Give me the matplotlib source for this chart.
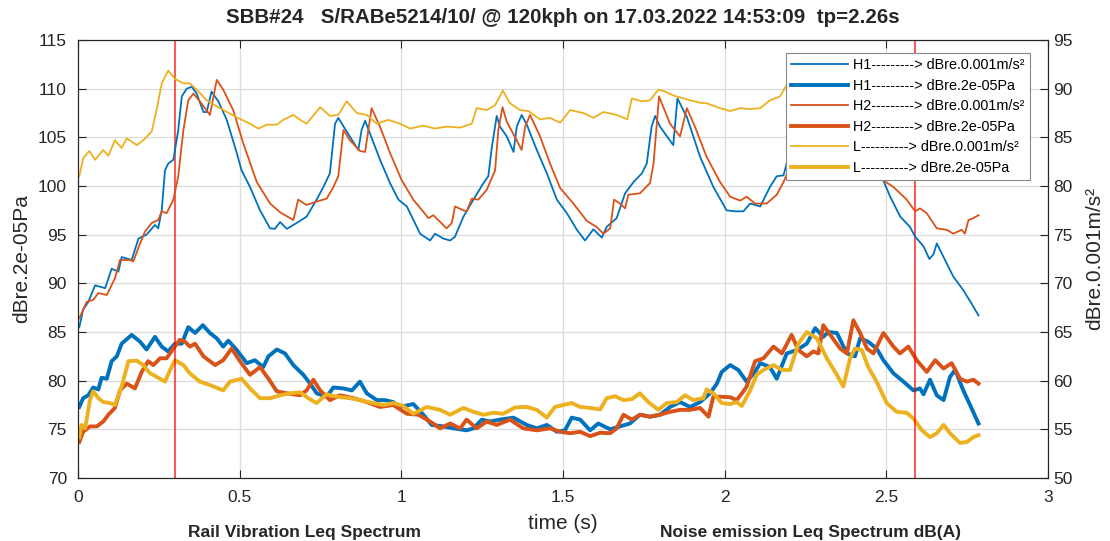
import matplotlib
matplotlib.use('Agg')
import matplotlib.pyplot as plt

plt.rcParams['font.family'] = ['Liberation Sans', 'DejaVu Sans']

# thin lines: acceleration, right axis (dBre.0.001m/s²)
t_h1_acc = [0.004, 0.016, 0.032, 0.053, 0.084, 0.104, 0.125, 0.135, 0.166, 0.187, 0.212, 0.238, 0.248,
            0.259, 0.269, 0.279, 0.295, 0.31, 0.321, 0.336, 0.352, 0.367, 0.388, 0.398, 0.413, 0.434,
            0.46, 0.491, 0.506, 0.532, 0.563, 0.594, 0.609, 0.625, 0.646, 0.676, 0.707, 0.738, 0.759,
            0.779, 0.795, 0.805, 0.831, 0.867, 0.877, 0.888, 0.903, 0.934, 0.965, 0.991, 1.017, 1.042,
            1.058, 1.089, 1.104, 1.13, 1.151, 1.166, 1.192, 1.223, 1.254, 1.269, 1.28, 1.295, 1.305,
            1.326, 1.347, 1.357, 1.372, 1.388, 1.419, 1.45, 1.481, 1.512, 1.543, 1.568, 1.594, 1.62,
            1.635, 1.666, 1.692, 1.718, 1.744, 1.759, 1.774, 1.785, 1.8, 1.841, 1.854, 1.872, 1.883,
            1.924, 1.965, 2.006, 2.032, 2.058, 2.079, 2.11, 2.14, 2.161, 2.182, 2.197, 2.22, 2.27, 2.3,
            2.35, 2.4, 2.45, 2.49, 2.512, 2.543, 2.573, 2.589, 2.615, 2.633, 2.646, 2.656, 2.677, 2.707,
            2.738, 2.764, 2.785]
h1_acc = [65.5, 67.3, 68.1, 69.8, 69.5, 71.5, 71.2, 72.7, 72.4, 74.6, 75.0, 76.0, 75.65,
          77.5, 81.6, 82.3, 82.7, 85.75, 89.2, 90.0, 90.2, 89.5, 87.6, 87.6, 89.7, 88.7,
          86.8, 83.4, 81.6, 79.9, 77.5, 75.65, 75.6, 76.3, 75.6, 76.2, 76.85, 78.6, 79.9,
          81.3, 86.4, 87.0, 85.6, 83.7, 85.75, 86.7, 85.4, 82.7, 80.3, 78.6, 77.9, 76.2,
          75.1, 74.4, 75.1, 74.6, 74.4, 74.8, 76.85, 78.6, 80.3, 81.0, 84.0, 87.2, 86.1,
          85.1, 83.5, 86.1, 87.3, 86.3, 83.7, 81.3, 78.6, 77.2, 75.5, 74.4, 75.55, 74.7,
          75.8, 76.7, 79.25, 80.4, 81.3, 82.3, 86.1, 87.2, 86.1, 84.2, 89.0, 87.8, 87.1,
          83.0, 79.9, 77.5, 77.4, 77.4, 78.2, 77.9, 79.9, 81.0, 81.1, 83.0, 85.0, 88.5, 87.0,
          89.0, 85.0, 82.0, 80.6, 78.9, 76.85, 75.8, 74.8, 73.8, 72.5, 73.0, 74.1, 72.7, 70.7,
          69.3, 67.9, 66.7]

t_h2_acc = [0.004, 0.027, 0.047, 0.063, 0.089, 0.114, 0.13, 0.161, 0.171, 0.192, 0.207, 0.228, 0.248,
            0.259, 0.274, 0.295, 0.31, 0.326, 0.341, 0.357, 0.377, 0.408, 0.429, 0.449, 0.48, 0.511,
            0.553, 0.594, 0.625, 0.666, 0.681, 0.707, 0.738, 0.769, 0.79, 0.805, 0.821, 0.841, 0.872,
            0.888, 0.908, 0.934, 0.965, 1.001, 1.037, 1.084, 1.099, 1.14, 1.156, 1.166, 1.192, 1.202,
            1.218, 1.238, 1.264, 1.29, 1.3, 1.313, 1.326, 1.357, 1.372, 1.383, 1.398, 1.429, 1.46,
            1.491, 1.532, 1.574, 1.604, 1.625, 1.646, 1.658, 1.676, 1.692, 1.702, 1.738, 1.769, 1.78,
            1.797, 1.831, 1.862, 1.883, 1.908, 1.944, 1.986, 2.017, 2.048, 2.068, 2.094, 2.13, 2.161,
            2.182, 2.197, 2.22, 2.27, 2.3, 2.35, 2.4, 2.45, 2.49, 2.522, 2.563, 2.589, 2.604, 2.625,
            2.656, 2.687, 2.707, 2.733, 2.743, 2.754, 2.769, 2.785]
h2_acc = [66.4, 68.1, 68.3, 69.0, 68.8, 70.5, 72.4, 72.4, 72.25, 74.1, 75.3, 76.2, 76.5,
          77.4, 77.2, 78.6, 81.0, 85.75, 88.8, 89.5, 88.7, 87.3, 90.9, 89.9, 87.8, 84.4,
          80.4, 78.2, 77.3, 76.5, 78.6, 78.05, 78.4, 78.7, 79.9, 81.0, 85.75, 84.7, 83.6,
          83.5, 88.0, 86.1, 83.4, 80.6, 78.6, 76.7, 77.0, 75.65, 76.2, 77.9, 77.5, 77.4,
          78.7, 78.6, 79.6, 81.6, 85.75, 88.1, 86.6, 84.7, 83.7, 86.1, 87.3, 85.1, 82.3,
          79.8, 78.2, 76.4, 75.8, 75.1, 75.65, 78.6, 78.2, 77.7, 79.1, 79.25, 80.3, 82.3,
          89.2, 86.4, 85.1, 88.0, 86.1, 83.0, 80.4, 78.9, 78.5, 78.9, 78.2, 78.2, 79.1,
          80.4, 81.6, 83.5, 86.0, 87.5, 88.5, 86.0, 83.0, 80.6, 79.9, 78.6, 77.4, 77.7, 77.2,
          75.65, 75.5, 75.1, 75.5, 75.1, 76.5, 76.7, 77.0]

t_l_acc = [0.004, 0.016, 0.035, 0.053, 0.078, 0.094, 0.114, 0.135, 0.151, 0.182, 0.202, 0.228, 0.243,
           0.259, 0.279, 0.3, 0.326, 0.346, 0.367, 0.398, 0.439, 0.491, 0.532, 0.558, 0.584, 0.615,
           0.635, 0.666, 0.687, 0.707, 0.749, 0.779, 0.805, 0.831, 0.862, 0.893, 0.924, 0.96, 0.996,
           1.027, 1.068, 1.104, 1.14, 1.182, 1.218, 1.233, 1.264, 1.29, 1.314, 1.336, 1.367, 1.393,
           1.429, 1.46, 1.491, 1.522, 1.563, 1.594, 1.625, 1.666, 1.699, 1.713, 1.744, 1.769, 1.795,
           1.816, 1.841, 1.883, 1.924, 1.944, 1.986, 2.017, 2.048, 2.079, 2.11, 2.14, 2.171, 2.192,
           2.25, 2.3, 2.4, 2.5, 2.6, 2.7, 2.785]
l_acc = [81.0, 82.85, 83.6, 82.7, 83.7, 83.1, 84.7, 83.9, 84.9, 84.2, 84.7, 85.6, 87.8,
         90.55, 91.85, 91.0, 90.55, 90.55, 89.9, 88.8, 88.0, 87.05, 86.4, 85.9, 86.3, 86.3,
         86.8, 87.3, 86.8, 86.4, 88.1, 87.2, 87.3, 88.7, 87.5, 87.3, 86.4, 86.8, 86.4,
         85.9, 86.2, 85.9, 86.1, 86.0, 86.4, 88.0, 87.8, 88.3, 89.8, 88.5, 87.8, 87.7,
         86.85, 87.0, 86.5, 87.8, 87.5, 87.0, 87.6, 87.3, 86.85, 89.0, 88.7, 88.8, 89.9,
         89.7, 89.3, 88.9, 88.55, 88.5, 88.0, 87.7, 88.0, 87.9, 88.0, 88.8, 89.2, 90.4,
         90.5, 91.0, 90.0, 89.0, 88.0, 87.0, 86.5]

# thick lines: sound pressure, left axis (dBre.2e-05Pa)
t_h1_pa = [0.004, 0.016, 0.032, 0.047, 0.063, 0.073, 0.089, 0.104, 0.12, 0.135, 0.166, 0.192, 0.212,
           0.238, 0.259, 0.279, 0.3, 0.321, 0.341, 0.362, 0.386, 0.408, 0.429, 0.449, 0.465, 0.491,
           0.522, 0.547, 0.573, 0.589, 0.615, 0.64, 0.666, 0.697, 0.718, 0.738, 0.769, 0.79, 0.821,
           0.847, 0.872, 0.893, 0.924, 0.95, 0.975, 0.996, 1.037, 1.068, 1.094, 1.13, 1.161, 1.202,
           1.223, 1.249, 1.274, 1.305, 1.347, 1.388, 1.419, 1.45, 1.481, 1.506, 1.527, 1.553, 1.584,
           1.609, 1.646, 1.676, 1.707, 1.738, 1.769, 1.8, 1.831, 1.862, 1.893, 1.924, 1.955, 1.976,
           1.991, 2.017, 2.042, 2.068, 2.094, 2.11, 2.14, 2.161, 2.192, 2.223, 2.254, 2.28, 2.305,
           2.321, 2.347, 2.378, 2.403, 2.419, 2.444, 2.47, 2.491, 2.522, 2.553, 2.584, 2.604, 2.615,
           2.635, 2.656, 2.677, 2.697, 2.713, 2.738, 2.759, 2.785]
h1_pa = [77.3, 78.2, 78.5, 79.3, 79.1, 80.3, 80.2, 82.0, 82.5, 83.8, 84.7, 84.0, 83.2,
         84.5, 83.5, 83.0, 83.8, 83.8, 85.5, 84.9, 85.7, 84.9, 84.35, 83.5, 84.1, 83.15,
         81.8, 82.1, 81.4, 82.5, 83.2, 82.8, 81.6, 80.6, 79.7, 78.7, 78.35, 79.3, 79.2,
         79.0, 79.9, 78.7, 78.0, 78.0, 77.8, 77.3, 77.6, 76.5, 75.45, 75.3, 75.1, 74.9,
         75.1, 76.0, 75.8, 76.0, 76.2, 75.45, 75.1, 75.45, 74.75, 74.9, 76.2, 76.0, 74.9,
         75.6, 75.0, 75.3, 75.6, 76.5, 76.3, 76.5, 77.3, 77.8, 77.3, 77.8, 78.7, 79.7,
         80.9, 81.6, 81.1, 79.9, 80.9, 81.8, 81.4, 80.2, 82.8, 83.15, 83.8, 85.4, 84.5,
         85.0, 84.9, 82.8, 82.5, 84.35, 84.0, 83.3, 82.1, 80.75, 79.9, 79.0, 79.2, 78.6,
         80.1, 78.5, 78.0, 80.4, 81.1, 79.0, 77.5, 75.6]

t_h2_pa = [0.004, 0.016, 0.037, 0.058, 0.078, 0.094, 0.114, 0.13, 0.151, 0.176, 0.197, 0.217, 0.233,
           0.254, 0.274, 0.295, 0.315, 0.331, 0.346, 0.362, 0.388, 0.424, 0.449, 0.475, 0.501, 0.532,
           0.563, 0.589, 0.615, 0.646, 0.687, 0.707, 0.728, 0.749, 0.779, 0.81, 0.852, 0.893, 0.934,
           0.975, 1.017, 1.053, 1.089, 1.12, 1.151, 1.182, 1.202, 1.233, 1.264, 1.295, 1.336, 1.377,
           1.419, 1.46, 1.491, 1.522, 1.553, 1.584, 1.615, 1.646, 1.666, 1.687, 1.713, 1.738, 1.769,
           1.8, 1.831, 1.862, 1.893, 1.924, 1.95, 1.965, 1.986, 2.017, 2.037, 2.058, 2.068, 2.094,
           2.12, 2.151, 2.177, 2.207, 2.228, 2.254, 2.274, 2.29, 2.305, 2.331, 2.357, 2.378, 2.398,
           2.419, 2.44, 2.46, 2.491, 2.522, 2.542, 2.568, 2.594, 2.625, 2.651, 2.677, 2.702, 2.728,
           2.749, 2.769, 2.785]
h2_pa = [73.7, 74.75, 75.3, 75.3, 75.8, 76.5, 77.2, 79.0, 79.7, 79.2, 80.9, 82.0, 81.6,
         82.3, 82.3, 83.3, 84.2, 84.0, 83.5, 83.8, 82.5, 81.6, 82.1, 83.3, 82.0, 80.6,
         81.4, 80.2, 78.9, 78.7, 78.5, 79.0, 80.1, 79.0, 78.0, 78.5, 78.2, 77.8, 77.3,
         77.5, 76.6, 76.5, 75.8, 75.1, 75.6, 75.1, 76.0, 75.1, 75.8, 75.45, 76.0, 75.1,
         74.9, 75.1, 74.75, 74.6, 74.75, 74.3, 74.65, 74.6, 75.1, 76.5, 76.0, 76.5, 76.3,
         76.5, 76.8, 77.0, 77.0, 77.2, 76.3, 78.35, 78.35, 78.3, 78.0, 78.9, 79.4, 82.0,
         82.3, 83.5, 82.8, 84.7, 83.15, 82.5, 83.0, 82.8, 85.7, 84.5, 83.3, 82.8, 86.2,
         84.9, 83.3, 82.8, 84.9, 83.5, 82.8, 83.5, 82.1, 80.9, 82.1, 81.25, 81.8, 80.2,
         79.9, 80.1, 79.7]

t_l_pa = [0.004, 0.011, 0.022, 0.037, 0.047, 0.063, 0.078, 0.099, 0.114, 0.135, 0.156, 0.182, 0.202,
          0.223, 0.243, 0.269, 0.285, 0.3, 0.326, 0.346, 0.377, 0.408, 0.449, 0.47, 0.506, 0.532,
          0.563, 0.594, 0.625, 0.656, 0.687, 0.712, 0.738, 0.769, 0.8, 0.841, 0.872, 0.913, 0.944,
          0.975, 1.006, 1.037, 1.079, 1.12, 1.151, 1.192, 1.223, 1.254, 1.285, 1.315, 1.352, 1.388,
          1.419, 1.45, 1.475, 1.501, 1.527, 1.553, 1.584, 1.615, 1.635, 1.661, 1.687, 1.713, 1.738,
          1.764, 1.795, 1.821, 1.852, 1.877, 1.903, 1.934, 1.944, 1.965, 1.991, 2.017, 2.037, 2.053,
          2.079, 2.099, 2.12, 2.151, 2.177, 2.202, 2.228, 2.254, 2.285, 2.316, 2.347, 2.367, 2.388,
          2.403, 2.424, 2.444, 2.47, 2.501, 2.532, 2.563, 2.584, 2.61, 2.635, 2.656, 2.677, 2.697,
          2.728, 2.749, 2.769, 2.785]
l_pa = [74.2, 75.45, 75.1, 78.0, 78.9, 78.2, 77.8, 77.7, 77.5, 79.4, 82.0, 82.05, 81.6,
        80.75, 80.4, 79.9, 81.1, 82.1, 81.6, 80.75, 79.9, 79.55, 79.0, 79.9, 80.2, 79.2,
        78.2, 78.2, 78.5, 78.7, 78.8, 78.2, 77.7, 78.6, 78.35, 78.2, 78.0, 77.7, 77.5,
        77.7, 77.4, 76.6, 77.3, 77.0, 76.5, 77.2, 76.8, 76.5, 76.7, 76.6, 77.25, 77.3,
        77.0, 76.2, 77.3, 77.5, 77.7, 77.3, 77.2, 77.05, 78.2, 78.4, 78.0, 78.1, 78.7,
        77.8, 77.0, 77.7, 77.8, 78.5, 78.0, 78.2, 79.1, 78.7, 77.7, 77.6, 77.8, 77.4,
        79.0, 80.6, 81.1, 81.6, 81.1, 81.1, 83.8, 85.0, 84.35, 82.3, 80.6, 79.4, 82.3,
        83.3, 83.15, 81.4, 79.9, 77.7, 76.8, 76.7, 76.1, 74.9, 74.2, 74.6, 75.45, 74.6,
        73.6, 73.7, 74.2, 74.4]

marker_times = [0.3, 2.59]

blue = '#0072BD'
orange = '#D95319'
yellow = '#EDB120'
dark = '#262626'

fig = plt.figure(figsize=(11.1, 5.41), dpi=100)
ax = fig.add_axes([78 / 1110, 63 / 541, 970 / 1110, 438 / 541])
ax2 = ax.twinx()

lines = []
lines += ax2.plot(t_h1_acc, h1_acc, color=blue, lw=1.3, label='H1---------> dBre.0.001m/s²')
lines += ax.plot(t_h1_pa, h1_pa, color=blue, lw=2.8, label='H1---------> dBre.2e-05Pa')
lines += ax2.plot(t_h2_acc, h2_acc, color=orange, lw=1.3, label='H2---------> dBre.0.001m/s²')
lines += ax.plot(t_h2_pa, h2_pa, color=orange, lw=2.8, label='H2---------> dBre.2e-05Pa')
lines += ax2.plot(t_l_acc, l_acc, color=yellow, lw=1.3, label='L----------> dBre.0.001m/s²')
lines += ax.plot(t_l_pa, l_pa, color=yellow, lw=2.8, label='L----------> dBre.2e-05Pa')

for tm in marker_times:
    ax.axvline(tm, color='#ff0000', lw=1.1, alpha=0.85)

ax.set_xlim(0, 3)
ax.set_ylim(70, 115)
ax2.set_ylim(50, 95)
ax.set_xticks([0, 0.5, 1, 1.5, 2, 2.5, 3])
ax.set_xticklabels(['0', '0.5', '1', '1.5', '2', '2.5', '3'])
ax.set_yticks(range(70, 116, 5))
ax2.set_yticks(range(50, 96, 5))
ax.grid(True, color='#dcdcdc', lw=0.9)
ax.set_axisbelow(True)

for a in (ax, ax2):
    a.tick_params(direction='in', length=6, width=0.8, colors=dark, labelsize=12.5)
    for s in a.spines.values():
        s.set_color(dark)
ax.tick_params(top=True)
ax.tick_params(axis='x', pad=9)
ax.tick_params(axis='y', pad=8)
ax2.tick_params(axis='y', pad=4)

ax.set_xlabel('time (s)', fontsize=15, color=dark, labelpad=6)
ax.set_ylabel('dBre.2e-05Pa', fontsize=15, color=dark, labelpad=5)
ax2.set_ylabel('dBre.0.001m/s²', fontsize=15, color=dark, labelpad=9)
ax.set_title('SBB#24   S/RABe5214/10/ @ 120kph on 17.03.2022 14:53:09  tp=2.26s',
             fontsize=14.8, fontweight='bold', color=dark, pad=12)

leg = ax2.legend(handles=lines, loc='upper right', bbox_to_anchor=(0.9814, 0.970),
                 borderaxespad=0, fontsize=10.4, frameon=True, fancybox=False, framealpha=1,
                 edgecolor='#888888', handlelength=3.9, borderpad=0.35, labelspacing=0.45,
                 handletextpad=0.4)
leg.get_frame().set_linewidth(0.8)

fig.text(305 / 1110, 1 / 541, 'Rail Vibration Leq Spectrum', ha='center', va='bottom',
         fontsize=12.5, fontweight='bold', color=dark)
fig.text(810 / 1110, 1 / 541, 'Noise emission Leq Spectrum dB(A)', ha='center', va='bottom',
         fontsize=12.5, fontweight='bold', color=dark)

fig.savefig('out.png', dpi=100)
